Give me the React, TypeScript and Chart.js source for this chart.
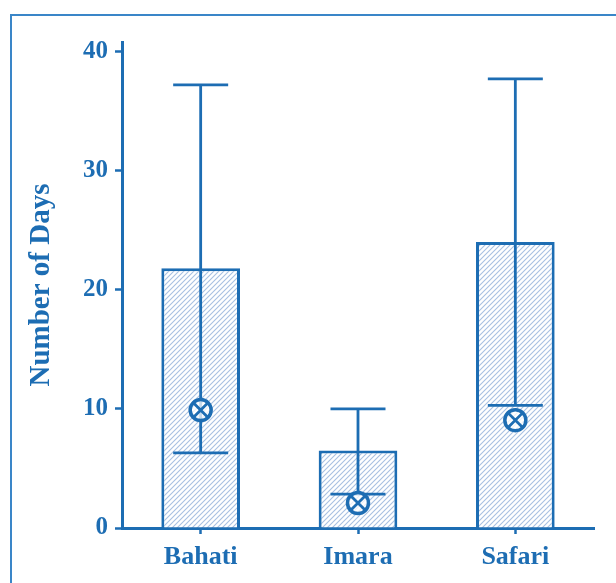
import React, { useEffect, useRef } from "react";
import { Chart, registerables } from "chart.js";

Chart.register(...registerables);

const categories = ["Bahati", "Imara", "Safari"];
const barValues = [21.8, 6.5, 24.0];
const errHigh = [37.2, 10.0, 37.7];
const errLow = [6.3, 2.85, 10.3];
const markerValues = [9.9, 2.1, 9.05];
const yTickValues = [0, 10, 20, 30, 40];

const BLUE = "#1d6db3";
const FRAME = "#3a86c8";
const SERIF = "'Liberation Serif', 'Times New Roman', serif";

function makeHatch(): CanvasPattern | string {
  const s = 5;
  const c = document.createElement("canvas");
  c.width = s;
  c.height = s;
  const g = c.getContext("2d");
  if (!g) return "#ffffff";
  g.fillStyle = "#ffffff";
  g.fillRect(0, 0, s, s);
  g.strokeStyle = "rgba(110,150,205,0.6)";
  g.lineWidth = 1.1;
  g.beginPath();
  g.moveTo(0, s);
  g.lineTo(s, 0);
  g.moveTo(-1, 1);
  g.lineTo(1, -1);
  g.moveTo(s - 1, s + 1);
  g.lineTo(s + 1, s - 1);
  g.stroke();
  const p = g.createPattern(c, "repeat");
  return p || "#ffffff";
}

const errorBarsPlugin = {
  id: "errorBars",
  afterDatasetDraw(chart: any, args: any) {
    if (args.index !== 0) return;
    const { ctx, scales } = chart;
    const x = scales.x;
    const y = scales.y;
    ctx.save();
    ctx.strokeStyle = BLUE;
    ctx.lineWidth = 2.8;
    const capHalf = 27.5;
    for (let i = 0; i < categories.length; i++) {
      const px = x.getPixelForValue(i);
      const hi = y.getPixelForValue(errHigh[i]);
      const lo = y.getPixelForValue(errLow[i]);
      ctx.beginPath();
      ctx.moveTo(px, hi);
      ctx.lineTo(px, lo);
      ctx.moveTo(px - capHalf, hi);
      ctx.lineTo(px + capHalf, hi);
      ctx.moveTo(px - capHalf, lo);
      ctx.lineTo(px + capHalf, lo);
      ctx.stroke();
    }
    ctx.restore();
  },
};

export default function App() {
  const ref = useRef<HTMLCanvasElement | null>(null);

  useEffect(() => {
    if (!ref.current) return;
    const hatch = makeHatch();
    const chart = new Chart(ref.current, {
      type: "bar",
      data: {
        labels: categories,
        datasets: [
          {
            type: "bar",
            order: 3,
            data: barValues,
            backgroundColor: hatch as any,
            borderColor: BLUE,
            borderWidth: 3,
            barPercentage: 0.5,
            categoryPercentage: 1,
          } as any,
          {
            type: "line",
            order: 2,
            data: markerValues,
            showLine: false,
            pointStyle: "circle",
            pointRadius: 10.5,
            pointBorderWidth: 3.5,
            pointBorderColor: BLUE,
            pointBackgroundColor: "rgba(255,255,255,0.75)",
          } as any,
          {
            type: "line",
            order: 1,
            data: markerValues,
            showLine: false,
            pointStyle: "crossRot",
            pointRadius: 10,
            pointBorderWidth: 2.8,
            pointBorderColor: BLUE,
          } as any,
        ],
      },
      options: {
        responsive: false,
        animation: false,
        events: [],
        layout: { padding: { top: 42, right: 22, left: 0, bottom: 0 } },
        plugins: {
          legend: { display: false },
          tooltip: { enabled: false },
        },
        scales: {
          x: {
            afterFit: (s: any) => {
              s.height = 55;
            },
            grid: {
              offset: false,
              drawOnChartArea: false,
              drawTicks: true,
              tickLength: 6,
              tickColor: BLUE,
              tickWidth: 2.5,
            },
            border: { color: BLUE, width: 3 },
            ticks: {
              color: BLUE,
              padding: 8,
              font: { family: SERIF, size: 26, weight: "bold" },
            },
          },
          y: {
            min: 0,
            max: 40.8,
            afterFit: (s: any) => {
              s.width = 122;
            },
            afterBuildTicks: (s: any) => {
              s.ticks = yTickValues.map((v) => ({ value: v }));
            },
            grid: {
              drawOnChartArea: false,
              drawTicks: true,
              tickLength: 7,
              tickColor: BLUE,
              tickWidth: 2.5,
            },
            border: { color: BLUE, width: 3 },
            ticks: {
              color: BLUE,
              padding: 7,
              font: { family: SERIF, size: 25, weight: "bold" },
            },
            title: {
              display: true,
              text: "Number of Days",
              color: BLUE,
              padding: { top: 24, bottom: 0 },
              font: { family: SERIF, size: 29, weight: "bold" },
            },
          },
        },
      },
      plugins: [errorBarsPlugin],
    } as any);
    return () => chart.destroy();
  }, []);

  return (
    <div style={{ position: "absolute", left: 0, top: 0, width: 616, height: 583, overflow: "hidden", background: "#fff" }}>
      <div
        style={{
          position: "absolute",
          left: 10,
          top: 14,
          width: 700,
          height: 700,
          borderTop: `2px solid ${FRAME}`,
          borderLeft: `2px solid ${FRAME}`,
        }}
      />
      <canvas ref={ref} width={616} height={583} style={{ position: "absolute", left: 0, top: 0 }} />
    </div>
  );
}
